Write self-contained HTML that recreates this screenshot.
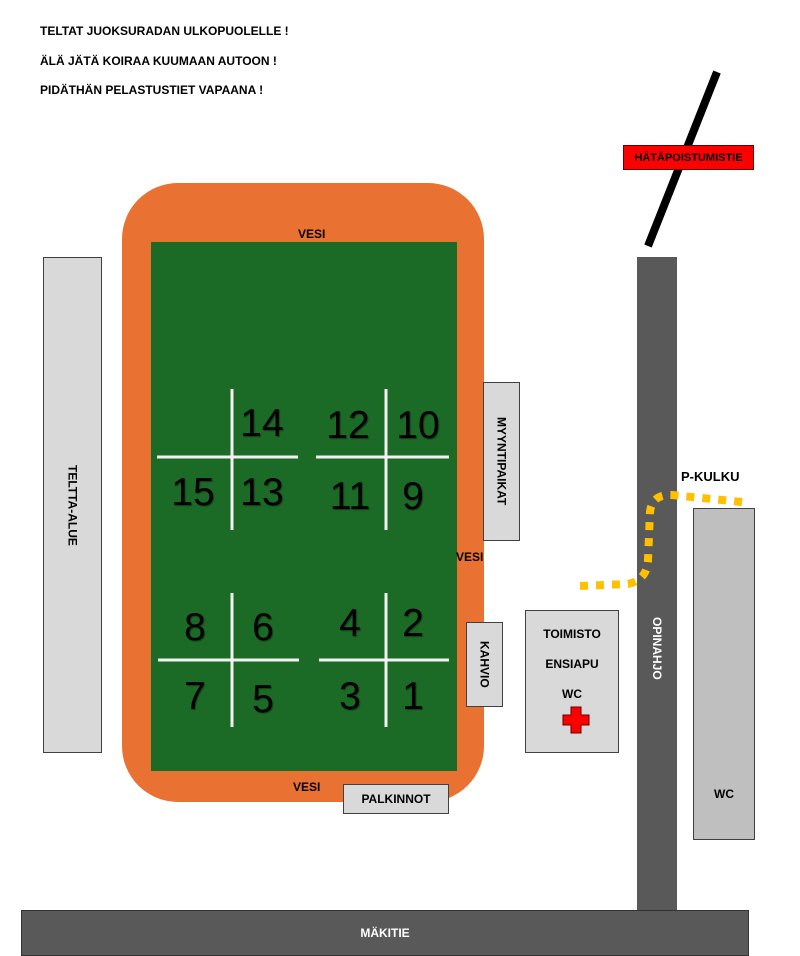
<!DOCTYPE html>
<html><head><meta charset="utf-8"><style>
body{margin:0;width:800px;height:956px;background:#fff;position:relative;overflow:hidden;font-family:"Liberation Sans",sans-serif}
.a{position:absolute}
.t{font-weight:bold;font-size:12px;color:#000}
.box{position:absolute;background:#d9d9d9;border:1px solid #404040;box-sizing:border-box;display:flex;align-items:center;justify-content:center;font-weight:bold;font-size:12px}
.v{writing-mode:vertical-rl}
.n{position:absolute;font-size:39px;color:#000;transform:translate(-50%,-50%);text-shadow:1px 1px 1px #0006}
</style></head><body>
<div class="a t" style="left:40px;top:24px">TELTAT JUOKSURADAN ULKOPUOLELLE !</div>
<div class="a t" style="left:40px;top:54px">ÄLÄ JÄTÄ KOIRAA KUUMAAN AUTOON !</div>
<div class="a t" style="left:40px;top:83px">PIDÄTHÄN PELASTUSTIET VAPAANA !</div>

<div class="a" style="left:122px;top:183px;width:362px;height:619px;background:#e97132;border-radius:56px"></div>
<div class="a" style="left:151px;top:242px;width:306px;height:529px;background:#1b6a25"></div>
<div class="a t" style="left:298px;top:227px">VESI</div>
<div class="a t" style="left:456px;top:550px">VESI</div>
<div class="a t" style="left:293px;top:780px">VESI</div>

<svg class="a" style="left:0;top:0" width="800" height="956">
<g stroke="#f2f2f2" stroke-width="3">
<line x1="232" y1="389" x2="232" y2="530"/><line x1="157" y1="457" x2="298" y2="457"/>
<line x1="386" y1="389" x2="386" y2="530"/><line x1="316" y1="457" x2="449" y2="457"/>
<line x1="232" y1="593" x2="232" y2="727"/><line x1="158" y1="660" x2="299" y2="660"/>
<line x1="386" y1="593" x2="386" y2="727"/><line x1="319" y1="660" x2="449" y2="660"/>
</g>
<line x1="717" y1="72" x2="648" y2="246" stroke="#000" stroke-width="8"/>
</svg>

<div class="n" style="left:262px;top:424px">14</div>
<div class="n" style="left:193px;top:493px">15</div>
<div class="n" style="left:262px;top:493px">13</div>
<div class="n" style="left:348px;top:426px">12</div>
<div class="n" style="left:418px;top:426px">10</div>
<div class="n" style="left:350px;top:497px">11</div>
<div class="n" style="left:413px;top:497px">9</div>
<div class="n" style="left:195px;top:628px">8</div>
<div class="n" style="left:263px;top:628px">6</div>
<div class="n" style="left:350px;top:624px">4</div>
<div class="n" style="left:413px;top:624px">2</div>
<div class="n" style="left:195px;top:697px">7</div>
<div class="n" style="left:263px;top:700px">5</div>
<div class="n" style="left:350px;top:697px">3</div>
<div class="n" style="left:413px;top:697px">1</div>

<div class="box" style="left:43px;top:257px;width:59px;height:496px"><span class="v">TELTTA-ALUE</span></div>
<div class="box" style="left:483px;top:382px;width:37px;height:159px"><span class="v">MYYNTIPAIKAT</span></div>
<div class="box" style="left:466px;top:622px;width:37px;height:85px"><span class="v">KAHVIO</span></div>
<div class="box" style="left:525px;top:610px;width:94px;height:143px;align-items:flex-start;padding-top:8px">
<div style="text-align:center;line-height:30px">TOIMISTO<br>ENSIAPU<br>WC</div></div>
<svg class="a" style="left:562px;top:706px" width="30" height="30"><path d="M9 1h10v8h8v10h-8v8h-10v-8h-8v-10h8z" fill="#f00" stroke="#600" stroke-width="1"/></svg>
<div class="box" style="left:343px;top:784px;width:106px;height:30px">PALKINNOT</div>
<div class="a" style="left:637px;top:257px;width:40px;height:654px;background:#595959"><span class="v a" style="color:#fff;font-weight:bold;font-size:12px;left:13px;top:360px">OPINAHJO</span></div>
<div class="box" style="left:693px;top:508px;width:62px;height:332px;background:#bfbfbf;align-items:flex-start;padding-top:278px">WC</div>
<div class="a" style="left:21px;top:910px;width:728px;height:46px;background:#595959;border:1px solid #333;box-sizing:border-box;color:#fff;font-weight:bold;font-size:12px;display:flex;align-items:center;justify-content:center">MÄKITIE</div>
<div class="a" style="z-index:5;left:623px;top:145px;width:131px;height:25px;background:#f00;border:1px solid #600;box-sizing:border-box;font-size:11px;font-weight:bold;display:flex;align-items:center;justify-content:center">HÄTÄPOISTUMISTIE</div>
<div class="a t" style="left:681px;top:469px;font-size:13px">P-KULKU</div>
<svg class="a" style="left:0;top:0" width="800" height="956">
<path d="M580 586 L628 584 Q647 580 648 560 L650 512 Q652 494 672 495 L742 502" fill="none" stroke="#ffc000" stroke-width="8" stroke-dasharray="8 8"/>
</svg>
</body></html>
